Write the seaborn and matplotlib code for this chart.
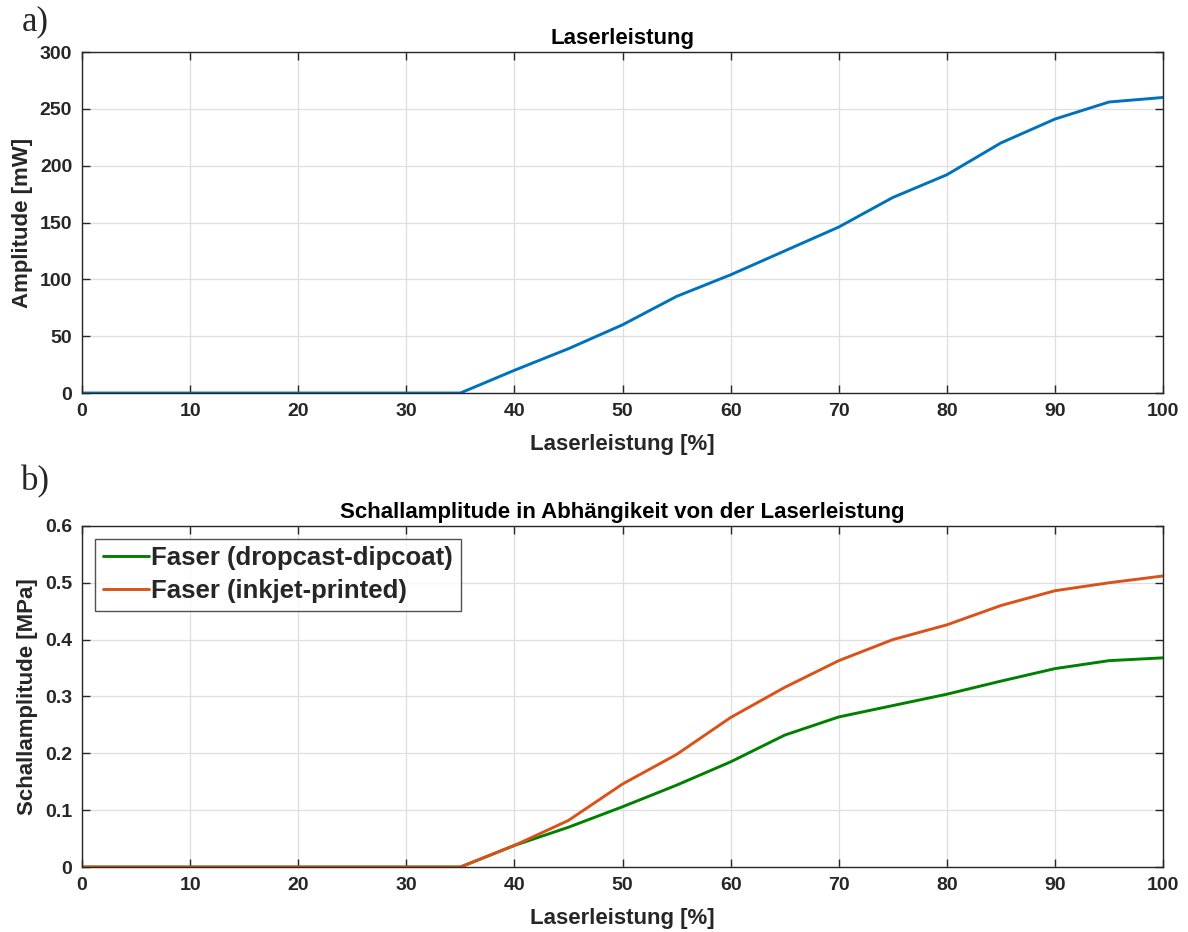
import matplotlib
matplotlib.use("Agg")
import matplotlib.pyplot as plt
import numpy as np
import pandas as pd
import seaborn as sns

# Laser power setting in percent
laser_pct = [0, 5, 10, 15, 20, 25, 30, 35, 40, 45, 50, 55, 60, 65, 70, 75, 80, 85, 90, 95, 100]

# a) measured optical output power [mW]
power_mw = [0, 0, 0, 0, 0, 0, 0, 0, 20, 39, 60, 85, 104, 125, 146, 172, 192, 220, 241, 256, 260]

# b) acoustic amplitude [MPa] for the two fibre coatings
amp_dropcast = [0, 0, 0, 0, 0, 0, 0, 0, 0.038, 0.070, 0.106, 0.144, 0.185, 0.232, 0.264,
                0.284, 0.304, 0.327, 0.349, 0.363, 0.368]
amp_inkjet = [0, 0, 0, 0, 0, 0, 0, 0, 0.038, 0.082, 0.146, 0.198, 0.263, 0.316, 0.363,
              0.400, 0.426, 0.460, 0.486, 0.500, 0.512]

series_names = ["Faser (dropcast-dipcoat)", "Faser (inkjet-printed)"]
series_colors = ["#008000", "#D95319"]

sns.set_theme(style="white")
plt.rcParams["font.family"] = ["Liberation Sans", "DejaVu Sans"]
plt.rcParams["font.weight"] = "bold"

fig = plt.figure(figsize=(11.88, 9.32), dpi=100)
ax_a = fig.add_axes([0.069, 0.5783, 0.910, 0.3659])
ax_b = fig.add_axes([0.069, 0.0697, 0.910, 0.3660])

df_a = pd.DataFrame({"x": laser_pct, "y": power_mw})
sns.lineplot(data=df_a, x="x", y="y", ax=ax_a, color="#0072BD", linewidth=2.1)

df_b = pd.DataFrame({
    "x": laser_pct * 2,
    "y": amp_dropcast + amp_inkjet,
    "series": [series_names[0]] * len(laser_pct) + [series_names[1]] * len(laser_pct),
})
sns.lineplot(data=df_b, x="x", y="y", hue="series", hue_order=series_names,
             palette=series_colors, ax=ax_b, linewidth=2.1)


def style_axes(ax, ylim, yticks, ylabel, title, ytickfmt):
    ax.set_xlim(0, 100)
    ax.set_ylim(*ylim)
    ax.set_xticks(np.arange(0, 101, 10))
    ax.set_yticks(yticks)
    ax.set_yticklabels([ytickfmt(v) for v in yticks])
    ax.grid(True, color="#dfdfdf", linewidth=0.9)
    ax.set_axisbelow(True)
    for s in ax.spines.values():
        s.set_color("#262626")
        s.set_linewidth(1.0)
    ax.tick_params(axis="both", which="both", direction="in", length=6, width=1.0,
                   colors="#262626", labelsize=14, top=True, right=True,
                   bottom=True, left=True)
    ax.tick_params(axis="y", pad=7)
    ax.tick_params(axis="x", pad=7)
    for lab in ax.get_xticklabels() + ax.get_yticklabels():
        lab.set_fontweight("bold")
    ax.set_xlabel("Laserleistung [%]", fontsize=16, fontweight="bold", color="#262626", labelpad=10)
    ax.set_ylabel(ylabel, fontsize=16, fontweight="bold", color="#262626", labelpad=5)
    ax.set_title(title, fontsize=16, fontweight="bold", color="black", pad=6)


style_axes(ax_a, (0, 300), np.arange(0, 301, 50), "Amplitude [mW]", "Laserleistung",
           lambda v: f"{int(v)}")
style_axes(ax_b, (0, 0.6), np.round(np.arange(0, 0.61, 0.1), 1), "Schallamplitude [MPa]",
           "Schallamplitude in Abhängikeit von der Laserleistung",
           lambda v: "0" if v == 0 else f"{v:.1f}")

leg = ax_b.legend(loc="upper left", fontsize=18.5, frameon=True, fancybox=False,
                  handlelength=1.8, handletextpad=0.1, borderpad=0.3, labelspacing=0.35,
                  borderaxespad=0.5)
leg.get_frame().set_edgecolor("#262626")
leg.get_frame().set_linewidth(1.0)
for t in leg.get_texts():
    t.set_fontweight("bold")

fig.text(0.018, 0.977, "a)", family="Liberation Serif", fontsize=25, weight="normal",
         ha="left", va="center")
fig.text(0.018, 0.483, "b)", family="Liberation Serif", fontsize=25, weight="normal",
         ha="left", va="center")

fig.savefig("out.png", dpi=100)
